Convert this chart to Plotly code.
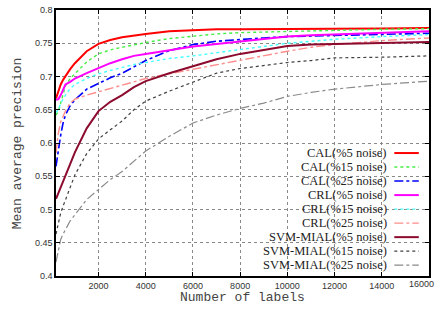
import plotly.graph_objects as go

labels = [200, 300, 400, 500, 600, 800, 1000, 1500, 2000, 2500, 3000, 3500, 4000,
          5000, 6000, 7000, 8000, 9000, 10000, 11000, 12000, 14000, 16000]

cal5 = [0.667, 0.678, 0.688, 0.695, 0.701, 0.711, 0.720, 0.738, 0.749, 0.755, 0.759, 0.762, 0.764,
        0.768, 0.770, 0.771, 0.771, 0.771, 0.771, 0.771, 0.771, 0.772, 0.773]
cal15 = [0.642, 0.648, 0.660, 0.675, 0.686, 0.697, 0.704, 0.722, 0.734, 0.740, 0.744, 0.748, 0.751,
         0.757, 0.761, 0.764, 0.766, 0.767, 0.768, 0.769, 0.770, 0.771, 0.772]
cal25 = [0.565, 0.590, 0.612, 0.630, 0.642, 0.656, 0.665, 0.681, 0.690, 0.698, 0.705, 0.714, 0.724,
         0.739, 0.748, 0.753, 0.756, 0.758, 0.760, 0.761, 0.762, 0.764, 0.765]
crl5 = [0.665, 0.666, 0.672, 0.680, 0.688, 0.692, 0.697, 0.705, 0.713, 0.720, 0.726, 0.731, 0.734,
        0.740, 0.745, 0.749, 0.753, 0.757, 0.760, 0.762, 0.763, 0.766, 0.768]
crl15 = [0.646, 0.650, 0.660, 0.667, 0.672, 0.682, 0.688, 0.697, 0.704, 0.709, 0.714, 0.718, 0.721,
         0.727, 0.731, 0.736, 0.740, 0.745, 0.750, 0.753, 0.756, 0.760, 0.763]
crl25 = [0.585, 0.615, 0.632, 0.641, 0.648, 0.660, 0.666, 0.672, 0.677, 0.682, 0.688, 0.693, 0.697,
         0.704, 0.711, 0.717, 0.724, 0.731, 0.738, 0.744, 0.748, 0.754, 0.758]
svm5 = [0.516, 0.525, 0.533, 0.542, 0.551, 0.568, 0.586, 0.622, 0.648, 0.662, 0.672, 0.684, 0.693,
        0.705, 0.716, 0.726, 0.734, 0.740, 0.746, 0.748, 0.749, 0.750, 0.752]
svm15 = [0.463, 0.480, 0.495, 0.505, 0.515, 0.535, 0.552, 0.584, 0.606, 0.620, 0.633, 0.650, 0.663,
         0.678, 0.692, 0.705, 0.712, 0.717, 0.721, 0.724, 0.728, 0.729, 0.731]
svm25 = [0.421, 0.440, 0.455, 0.463, 0.470, 0.483, 0.492, 0.515, 0.530, 0.545, 0.557, 0.572, 0.588,
         0.610, 0.630, 0.642, 0.652, 0.660, 0.670, 0.676, 0.681, 0.688, 0.693]

names = ["CAL(%5 noise)", "CAL(%15 noise)", "CAL(%25 noise)",
         "CRL(%5 noise)", "CRL(%15 noise)", "CRL(%25 noise)",
         "SVM-MIAL(%5 noise)", "SVM-MIAL(%15 noise)", "SVM-MIAL(%25 noise)"]
series = [cal5, cal15, cal25, crl5, crl15, crl25, svm5, svm15, svm25]

x_ticks = [2000, 4000, 6000, 8000, 10000, 12000, 14000, 16000]
x_tick_text = ["2000", "4000", "6000", "8000", "10000", "12000", "14000", ""]
last_x_label = "16000"
y_ticks = [0.4, 0.45, 0.5, 0.55, 0.6, 0.65, 0.7, 0.75, 0.8]
y_tick_text = ["0.4", "0.45", "0.5", "0.55", "0.6", "0.65", "0.7", "0.75", "0.8"]
x_title = "Number of labels"
y_title = "Mean average precision"

colors = ["#ff0000", "#44ee44", "#0000ff", "#ff00ff", "#44ffff", "#ff8c8c",
          "#8b0a2e", "#404040", "#8a8a8a"]
dashes = ["solid", "dot", "dashdot", "solid", "dot", "dashdot", "solid", "dot", "dashdot"]
widths = [2, 1.4, 1.6, 2, 1.4, 1.4, 2, 1.2, 1.2]

fig = go.Figure()
for name, ys, c, d, w in zip(names, series, colors, dashes, widths):
    fig.add_trace(go.Scatter(x=labels, y=ys, mode="lines", name=name,
                             line=dict(color=c, dash=d, width=w), showlegend=False))

L, R, T, B = 55.7, 428.7, 5.3, 275.7
W, H = R - L, B - T

# custom legend (text right-aligned, sample to the right)
row0, step = 150.7, 14.25
for i, (name, c, d, w) in enumerate(zip(names, colors, dashes, widths)):
    py = row0 + i * step
    yp = (B - py) / H
    fig.add_annotation(xref="paper", yref="paper", x=(388.5 - L) / W, y=yp,
                       text=name, showarrow=False, xanchor="right", yanchor="middle",
                       font=dict(family="Liberation Serif", size=12.5, color="#222222"))
    fig.add_shape(type="line", xref="paper", yref="paper",
                  x0=(394 - L) / W, x1=(418.5 - L) / W, y0=yp, y1=yp,
                  line=dict(color=c, dash=d, width=w))

# last x tick label (kept fully inside the figure)
fig.add_annotation(xref="paper", yref="paper", x=(436 - L) / W, y=(B - 284) / H,
                   text=last_x_label, showarrow=False, xanchor="right", yanchor="middle",
                   font=dict(family="Liberation Sans", size=9, color="#333333"))

# axis titles
fig.add_annotation(xref="paper", yref="paper", x=0.5, y=(B - 298) / H,
                   text=x_title, showarrow=False, xanchor="center", yanchor="middle",
                   font=dict(family="Liberation Mono", size=13, color="#444444"))
fig.add_annotation(xref="paper", yref="paper", x=(17 - L) / W, y=0.5,
                   text=y_title, showarrow=False, textangle=-90,
                   xanchor="center", yanchor="middle",
                   font=dict(family="Liberation Mono", size=13, color="#444444"))

axis_common = dict(showline=True, linecolor="black", linewidth=1.5, mirror="ticks",
                   ticks="inside", ticklen=4, tickcolor="black",
                   showgrid=True, gridcolor="#888888", griddash="dot", gridwidth=1,
                   zeroline=False,
                   tickfont=dict(family="Liberation Sans", size=9, color="#333333"))

fig.update_xaxes(range=[200, 16000], tickvals=x_ticks, ticktext=x_tick_text, **axis_common)
fig.update_yaxes(range=[0.4, 0.8], tickvals=y_ticks, ticktext=y_tick_text, **axis_common)

fig.update_layout(width=437, height=309, margin=dict(l=56, r=8, t=5, b=33),
                  plot_bgcolor="white", paper_bgcolor="white")

fig.write_html("out.html", config={"displayModeBar": False},
               post_script="document.body.style.margin='0';document.body.style.overflow='hidden';")
